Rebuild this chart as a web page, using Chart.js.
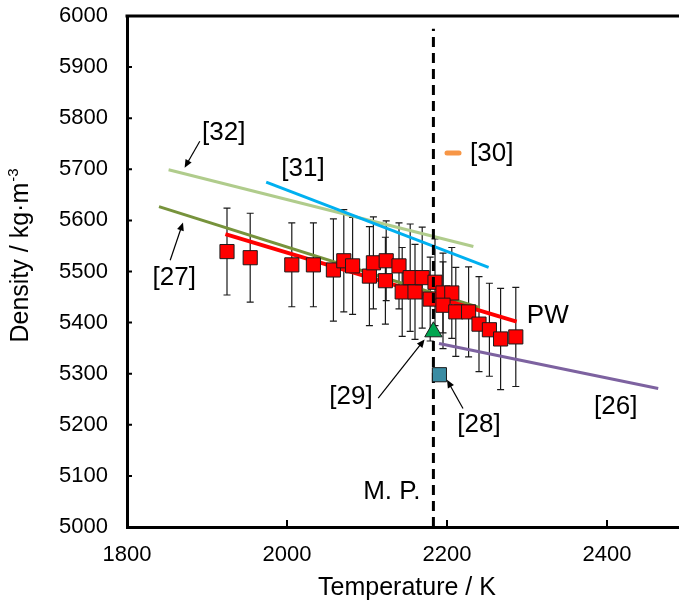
<!DOCTYPE html>
<html><head><meta charset="utf-8">
<script src="https://cdn.jsdelivr.net/npm/chart.js@4.4.1/dist/chart.umd.min.js"></script>
<style>html,body{margin:0;padding:0;background:#fff;}canvas{display:block;}</style>
</head><body>
<canvas id="c" width="679" height="603"></canvas>
<script>
const FONT = "'Liberation Sans', Arial, Helvetica, sans-serif";

// Present work (PW): measured densities with error bars
const pwT   = [1925,1954,2006,2033,2058,2071,2082,2103,2108,2124,2123,2140,2144,2154,2160,2169,2179,2185,2195,2206,2195,2211,2227,2240,2253,2267,2286];
const pwD   = [5539,5527,5513,5513,5503,5521,5511,5491,5517,5521,5482,5511,5460,5488,5460,5488,5446,5479,5458,5458,5434,5421,5421,5397,5386,5368,5372];
const pwErr = [85,87,82,82,100,100,95,97,90,78,85,84,87,105,93,99,82,85,78,89,85,87,88,93,91,99,97];

// Fitted / literature lines (endpoints)
const pwFitT = [1923, 2287]; const pwFitD = [5573, 5402];
const ref27T = [1840, 2241]; const ref27D = [5627, 5429];
const ref32T = [1852, 2233]; const ref32D = [5699, 5549];
const ref31T = [1974, 2252]; const ref31D = [5675, 5508];
const ref26T = [2190, 2464]; const ref26D = [5359, 5271];
const ref30T = [2200, 2215]; const ref30D = [5732, 5732];
const ref29T = [2183];       const ref29D = [5382];
const ref28T = [2190.5];     const ref28D = [5298];
const meltT  = [2183, 2183]; const meltD  = [5000, 5975];

// Axes
const xTicks = [1800, 2000, 2200, 2400];
const yTicks = [5000,5100,5200,5300,5400,5500,5600,5700,5800,5900,6000];

// Annotations (data units)
const labelText = ['[32]','[31]','[30]','[27]','PW','[29]','[28]','[26]','M. P.'];
const labelT    = [1921, 2020, 2256, 1859, 2326, 2080, 2240, 2411, 2131];
const labelD    = [5772, 5700, 5731, 5487, 5413, 5254, 5200, 5235, 5068];
const arrowFromT = [1891, 1854, 2114, 2220];
const arrowFromD = [5755, 5522, 5252, 5232];
const arrowToT   = [1872, 1870, 2172, 2200];
const arrowToD   = [5703, 5596, 5367, 5288];

const pts = (T, D) => T.map((t, i) => ({x: t, y: D[i]}));

const lineDs = (T, D, color, w, order, extra) => Object.assign({
  data: pts(T, D), showLine: true, borderColor: color, backgroundColor: color,
  borderWidth: w, pointRadius: 0, order: order, borderCapStyle: 'butt'
}, extra || {});

const deco = {
  id: 'deco',
  beforeDatasetsDraw(chart) {
    const ctx = chart.ctx, xs = chart.scales.x, ys = chart.scales.y;
    ctx.save();
    ctx.strokeStyle = '#1a1a1a';
    ctx.lineWidth = 1.2;
    pwT.forEach((t, i) => {
      const x = xs.getPixelForValue(t);
      const y1 = ys.getPixelForValue(pwD[i] + pwErr[i]);
      const y2 = ys.getPixelForValue(pwD[i] - pwErr[i]);
      ctx.beginPath();
      ctx.moveTo(x, y1); ctx.lineTo(x, y2);
      ctx.moveTo(x - 3.5, y1); ctx.lineTo(x + 3.5, y1);
      ctx.moveTo(x - 3.5, y2); ctx.lineTo(x + 3.5, y2);
      ctx.stroke();
    });
    ctx.restore();
  },
  afterDraw(chart) {
    const ctx = chart.ctx, xs = chart.scales.x, ys = chart.scales.y, a = chart.chartArea;
    ctx.save();
    ctx.strokeStyle = '#000';
    ctx.lineWidth = 3;
    ctx.beginPath();
    ctx.moveTo(a.left - 1.5, ys.getPixelForValue(6000));
    ctx.lineTo(a.right, ys.getPixelForValue(6000));
    ctx.stroke();
    ctx.lineWidth = 2;
    ctx.beginPath();
    yTicks.forEach(v => {
      if (v === 5000 || v === 6000) return;
      const y = ys.getPixelForValue(v);
      ctx.moveTo(a.left, y); ctx.lineTo(a.left + 5, y);
    });
    xTicks.forEach(v => {
      if (v === 1800) return;
      const x = xs.getPixelForValue(v);
      ctx.moveTo(x, a.bottom); ctx.lineTo(x, a.bottom - 7);
    });
    ctx.stroke();
    ctx.fillStyle = '#000';
    ctx.font = '26px ' + FONT;
    ctx.textAlign = 'center';
    ctx.textBaseline = 'middle';
    labelText.forEach((s, i) => {
      ctx.fillText(s, xs.getPixelForValue(labelT[i]), ys.getPixelForValue(labelD[i]));
    });
    ctx.lineWidth = 1.2;
    ctx.strokeStyle = '#000';
    arrowFromT.forEach((t, i) => {
      const x1 = xs.getPixelForValue(t), y1 = ys.getPixelForValue(arrowFromD[i]);
      const x2 = xs.getPixelForValue(arrowToT[i]), y2 = ys.getPixelForValue(arrowToD[i]);
      const ang = Math.atan2(y2 - y1, x2 - x1);
      const L = 8, W = 3.5;
      ctx.beginPath();
      ctx.moveTo(x1, y1);
      ctx.lineTo(x2 - Math.cos(ang) * L * 0.8, y2 - Math.sin(ang) * L * 0.8);
      ctx.stroke();
      ctx.beginPath();
      ctx.moveTo(x2, y2);
      ctx.lineTo(x2 - Math.cos(ang) * L - Math.sin(ang) * W, y2 - Math.sin(ang) * L + Math.cos(ang) * W);
      ctx.lineTo(x2 - Math.cos(ang) * L + Math.sin(ang) * W, y2 - Math.sin(ang) * L - Math.cos(ang) * W);
      ctx.closePath();
      ctx.fill();
    });
    ctx.font = '25px ' + FONT;
    ctx.textAlign = 'center';
    ctx.textBaseline = 'middle';
    ctx.fillText('Temperature / K', (a.left + a.right) / 2 + 4, 588);
    ctx.translate(21, 256);
    ctx.rotate(-Math.PI / 2);
    ctx.textAlign = 'left';
    ctx.textBaseline = 'alphabetic';
    ctx.font = '25px ' + FONT;
    const main = 'Density / kg\u00B7m';
    const wMain = ctx.measureText(main).width;
    ctx.font = '15px ' + FONT;
    const sup = '-3';
    const wSup = ctx.measureText(sup).width;
    const total = wMain + wSup;
    ctx.font = '25px ' + FONT;
    ctx.fillText(main, -total / 2, 7);
    ctx.font = '15px ' + FONT;
    ctx.fillText(sup, -total / 2 + wMain + 1, -3);
    ctx.restore();
  }
};

const plain = v => String(v);

new Chart(document.getElementById('c'), {
  type: 'scatter',
  data: {
    datasets: [
      {data: pts(ref29T, ref29D), pointStyle: 'triangle', pointRadius: 10, backgroundColor: '#00A650', borderColor: '#1a1a1a', borderWidth: 1, order: 0},
      {data: pts(ref28T, ref28D), pointStyle: 'rect', pointRadius: 10, backgroundColor: '#3A8CA3', borderColor: '#1a1a1a', borderWidth: 1, order: 1},
      lineDs(meltT, meltD, '#000', 3, 2, {borderDash: [10, 6]}),
      {data: pts(pwT, pwD), pointStyle: 'rect', pointRadius: 10, backgroundColor: '#FF0000', borderColor: '#1a1a1a', borderWidth: 1, order: 3},
      lineDs(pwFitT, pwFitD, '#FF0000', 4, 4),
      lineDs(ref27T, ref27D, '#77933C', 3, 5),
      lineDs(ref31T, ref31D, '#00B0F0', 3, 6),
      lineDs(ref32T, ref32D, '#B0CC8C', 3, 7),
      lineDs(ref26T, ref26D, '#7D62A0', 3, 8),
      lineDs(ref30T, ref30D, '#F79646', 5, 9, {borderCapStyle: 'round'})
    ]
  },
  options: {
    responsive: false,
    animation: false,
    devicePixelRatio: 1,
    layout: {autoPadding: false, padding: {top: 16, right: 0, left: 0, bottom: 0}},
    plugins: {legend: {display: false}, tooltip: {enabled: false}},
    scales: {
      x: {
        type: 'linear', min: 1800, max: 2490,
        afterBuildTicks: s => { s.ticks = xTicks.map(v => ({value: v})); },
        afterFit: s => { s.height = 76; s.paddingLeft = 0; s.paddingRight = 0; },
        grid: {display: false, drawTicks: false},
        border: {display: true, color: '#000', width: 3},
        ticks: {color: '#000', font: {family: FONT, size: 22}, padding: 15, maxRotation: 0, autoSkip: false, callback: plain}
      },
      y: {
        type: 'linear', min: 5000, max: 6000,
        afterBuildTicks: s => { s.ticks = yTicks.map(v => ({value: v})); },
        afterFit: s => { s.width = 127; s.paddingTop = 0; s.paddingBottom = 0; },
        grid: {display: false, drawTicks: false},
        border: {display: true, color: '#000', width: 3},
        ticks: {color: '#000', font: {family: FONT, size: 22}, padding: 19, autoSkip: false, callback: plain}
      }
    }
  },
  plugins: [deco]
});
</script>
</body></html>
